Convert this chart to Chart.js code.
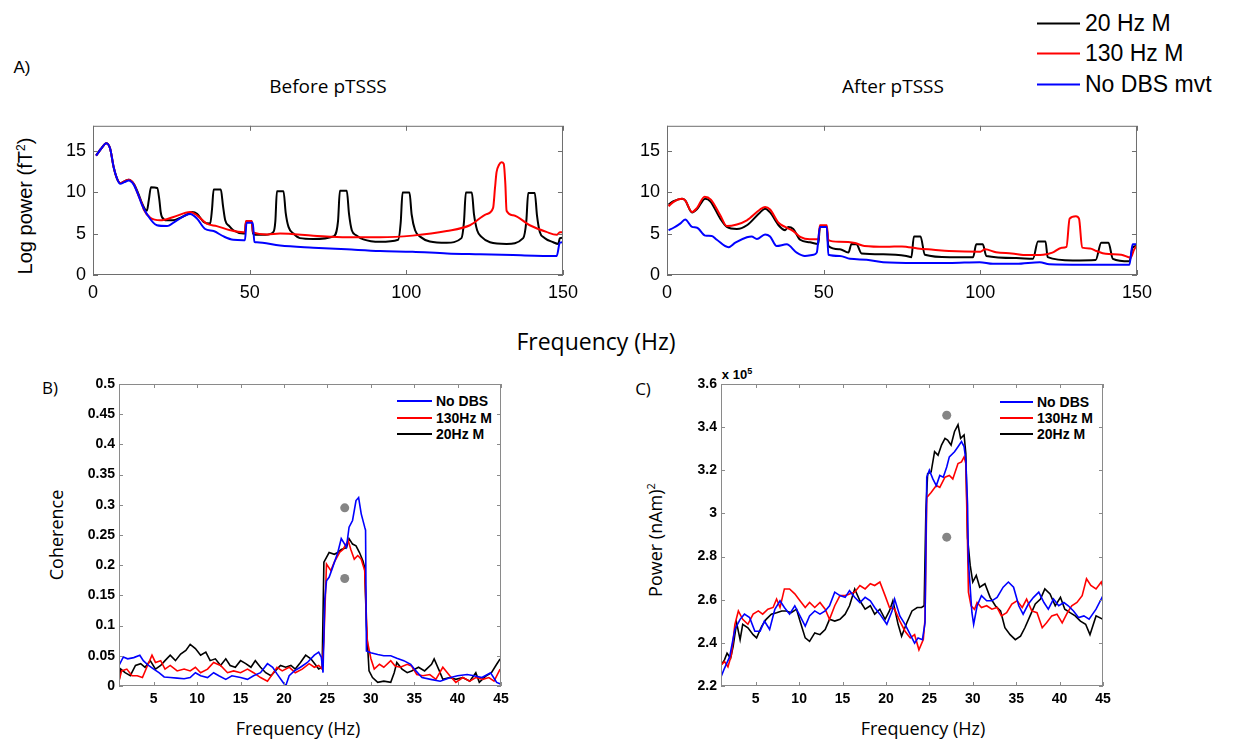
<!DOCTYPE html>
<html>
<head>
<meta charset="utf-8">
<script src="https://cdn.jsdelivr.net/npm/chart.js@4.4.1/dist/chart.umd.min.js"></script>
<style>
  body { margin: 0; background: #fff; width: 1240px; height: 739px; overflow: hidden; position: relative; }
  canvas { position: absolute; }
  .lbl { position: absolute; white-space: nowrap; line-height: 1; transform: translate(-50%, -50%); color: #000; }
  .rot { transform: translate(-50%, -50%) rotate(-90deg); }
  .os { font-family: "Open Sans", "DejaVu Sans", sans-serif; }
  .ar { font-family: "Liberation Sans", Arial, sans-serif; }
  .leg { position: absolute; display: flex; align-items: center; white-space: nowrap; transform: translateY(-50%); font-family: "Liberation Sans", Arial, sans-serif; line-height: 1; }
  .leg span.ln { display: inline-block; height: 2px; }
</style>
</head>
<body>

<div class="lbl ar" style="left:22px; top:67px; font-size:17px;">A)</div>
<div class="lbl os" style="left:328px; top:86px; font-size:19px;">Before pTSSS</div>
<div class="lbl os" style="left:893px; top:86px; font-size:19px;">After pTSSS</div>
<div class="lbl ar rot" style="left:25px; top:206px; font-size:20px;">Log power (fT<sup style="font-size:12px">2</sup>)</div>
<div class="lbl os" style="left:596px; top:341px; font-size:23px;">Frequency (Hz)</div>

<div class="lbl os" style="left:50px; top:387px; font-size:17px;">B)</div>
<div class="lbl os" style="left:643px; top:388px; font-size:17px;">C)</div>
<div class="lbl os rot" style="left:56px; top:535px; font-size:18px;">Coherence</div>
<div class="lbl os rot" style="left:654px; top:540px; font-size:18px;">Power (nAm)<sup style="font-size:11px">2</sup></div>
<div class="lbl os" style="left:298px; top:728px; font-size:18px;">Frequency (Hz)</div>
<div class="lbl os" style="left:923px; top:728px; font-size:18px;">Frequency (Hz)</div>
<div class="lbl ar" style="left:737px; top:374px; font-size:13px; font-weight:bold;">x 10<sup style="font-size:9px">5</sup></div>

<div class="leg" style="left:1037px; top:23px; font-size:23px;"><span class="ln" style="width:43px; background:#000; margin-right:5px;"></span>20 Hz M</div>
<div class="leg" style="left:1037px; top:53px; font-size:23px;"><span class="ln" style="width:43px; background:#f00; margin-right:5px;"></span>130 Hz M</div>
<div class="leg" style="left:1037px; top:84px; font-size:23px;"><span class="ln" style="width:43px; background:#00f; margin-right:5px;"></span>No DBS mvt</div>

<div class="leg" style="left:397px; top:401px; font-size:14px; font-weight:bold;"><span class="ln" style="width:35px; background:#00f; margin-right:4px;"></span>No DBS</div>
<div class="leg" style="left:397px; top:418px; font-size:14px; font-weight:bold;"><span class="ln" style="width:35px; background:#f00; margin-right:4px;"></span>130Hz M</div>
<div class="leg" style="left:397px; top:434px; font-size:14px; font-weight:bold;"><span class="ln" style="width:35px; background:#000; margin-right:4px;"></span>20Hz M</div>

<div class="leg" style="left:1000px; top:402px; font-size:14px; font-weight:bold;"><span class="ln" style="width:33px; background:#00f; margin-right:4px;"></span>No DBS</div>
<div class="leg" style="left:1000px; top:418px; font-size:14px; font-weight:bold;"><span class="ln" style="width:33px; background:#f00; margin-right:4px;"></span>130Hz M</div>
<div class="leg" style="left:1000px; top:434px; font-size:14px; font-weight:bold;"><span class="ln" style="width:33px; background:#000; margin-right:4px;"></span>20Hz M</div>

<canvas id="before" width="545" height="195" style="left:40px; top:108px;"></canvas>
<canvas id="after" width="545" height="195" style="left:614px; top:108px;"></canvas>
<canvas id="coh" width="450" height="340" style="left:70px; top:370px;"></canvas>
<canvas id="pow" width="460" height="340" style="left:660px; top:370px;"></canvas>

<script>
// ---- A) log power, before pTSSS ----
const beforeF20 = [1, 2.5, 4.3, 5.5, 6.6, 7.7, 8.7, 10, 11.4, 13,
  14.5, 15.6, 16.5, 17.2, 17.8, 18.5, 20.5, 21.2, 21.6, 22,
  23.6, 25.5, 27.8, 30, 31.6, 33.2, 35.3, 37.4, 38, 38.5,
  40.8, 41.5, 42.2, 43.5, 44.8, 48, 48.5, 48.8, 50.7, 51,
  51.2, 55, 57.6, 58.2, 58.7, 60.8, 61.5, 62.4, 64, 66,
  70.3, 76.7, 78.2, 78.8, 81, 81.7, 82.6, 84, 86.3, 91.6,
  97.4, 98.2, 98.8, 101, 101.7, 102.8, 104.5, 107.5, 112.9, 117.6,
  118.4, 119, 120.9, 121.6, 122.6, 124, 126.7, 132, 137.3, 138.3,
  138.9, 141, 141.7, 142.6, 144, 146.9, 148.5, 149, 150];
const before20 = [14.4, 15.2, 15.9, 15.2, 13.0, 11.6, 11.1, 11.3, 11.5, 11.0,
  9.8, 8.7, 8.0, 7.75, 9.0, 10.6, 10.5, 9.0, 7.6, 7.0,
  6.6, 6.6, 6.9, 7.3, 7.6, 7.4, 6.4, 6.2, 8.0, 10.3,
  10.3, 8.3, 6.6, 5.9, 5.4, 5.0, 5.0, 6.4, 6.4, 5.2,
  4.9, 4.85, 5.2, 6.5, 10.1, 10.1, 7.5, 5.8, 5.0, 4.45,
  4.35, 4.65, 6.5, 10.15, 10.15, 7.4, 5.4, 4.8, 4.3, 4.0,
  4.25, 6.3, 9.95, 9.95, 7.3, 5.4, 4.6, 4.05, 3.9, 4.45,
  6.4, 9.95, 9.95, 7.3, 5.4, 4.6, 3.95, 3.75, 4.45, 6.5,
  9.9, 9.9, 7.2, 5.2, 4.5, 3.95, 3.75, 4.45, 4.5];

const beforeF130 = [1, 2.5, 4.3, 5.5, 6.6, 7.7, 8.7, 10, 11.4, 13,
  14.5, 15.6, 16.2, 18.3, 21.5, 25.7, 31, 33.2, 36.3, 39.5,
  43.8, 48, 48.5, 48.8, 50.7, 51, 51.2, 55.5, 59.7, 70.3,
  81, 91.6, 102, 112.9, 120.3, 125.6, 127.7, 128.3, 128.8, 129.6,
  130.4, 131.1, 131.6, 132, 134.1, 139.4, 144.7, 148, 149, 150];
const before130 = [14.4, 15.2, 15.9, 15.2, 13.0, 11.6, 11.1, 11.3, 11.5, 11.0,
  9.6, 8.6, 7.9, 6.9, 6.6, 7.0, 7.6, 7.2, 6.2, 5.9,
  5.4, 5.15, 5.15, 6.5, 6.5, 5.3, 5.15, 4.9, 5.0, 4.75,
  4.55, 4.55, 4.75, 5.3, 6.0, 7.35, 8.1, 10.5, 12.4, 13.3,
  13.6, 13.4, 11, 7.75, 7.2, 6.0, 5.2, 4.85, 5.15, 5.15];

const beforeFNo = [1, 2.5, 4.3, 5.5, 6.6, 7.7, 8.7, 10, 11.4, 13,
  14.5, 15.6, 17.2, 20.4, 23.6, 26.8, 31, 33.2, 35.8, 38.5,
  41.7, 44.8, 48, 48.5, 49, 51, 51.5, 52.3, 59.7, 70.3,
  81, 91.6, 102, 113, 123.5, 134, 148, 149, 150];
const beforeNo = [14.4, 15.2, 15.9, 15.2, 13.0, 11.6, 11.0, 11.2, 11.4, 10.9,
  9.6, 8.5, 7.35, 6.0, 5.9, 6.6, 7.35, 6.8, 5.55, 5.3,
  4.65, 4.25, 4.2, 4.2, 6.3, 6.3, 4.0, 3.95, 3.55, 3.3,
  3.1, 2.9, 2.8, 2.6, 2.5, 2.4, 2.3, 3.9, 3.95];

// ---- A) log power, after pTSSS ----
const afterF20 = [0.5, 2.1, 4.8, 5.8, 8, 9.6, 12.2, 13.8, 17, 19.1,
  22.3, 25.5, 29.7, 31.3, 32.9, 35.6, 37.7, 38.7, 40.3, 42.5,
  45.6, 48.3, 48.8, 51, 51.5, 55.2, 57.9, 58.9, 60.5, 62.1,
  69, 76.4, 78, 78.8, 80.9, 82.3, 90.2, 97.7, 98.7, 100.8,
  101.9, 111.5, 116.8, 118.4, 120.8, 121.5, 129.5, 136.8, 138.6, 140.9,
  142.3, 147.6, 148.6, 150];
const after20 = [8.5, 8.9, 9.2, 9.0, 7.55, 7.95, 9.2, 8.9, 6.8, 5.8,
  5.55, 6.0, 7.55, 8.0, 7.55, 6.0, 5.4, 5.8, 5.55, 4.25,
  3.95, 3.75, 5.8, 5.8, 3.5, 3.1, 2.7, 3.75, 3.7, 2.6,
  2.5, 2.3, 2.15, 4.65, 4.65, 2.45, 2.15, 2.15, 3.7, 3.7,
  2.3, 2.05, 1.95, 4.05, 4.05, 2.15, 1.75, 1.8, 3.9, 3.9,
  1.95, 1.65, 3.3, 3.5];

const afterF130 = [0.5, 2, 4.8, 5.8, 8, 9.6, 12, 14, 17, 19.1,
  22.3, 25.5, 29.7, 31.3, 32.9, 35.6, 37.7, 40.3, 42.5, 45.6,
  48.3, 48.8, 51, 51.5, 55, 60, 63, 70, 75, 80,
  85, 90, 100, 101.5, 105, 110, 115, 120, 123, 126,
  127.5, 128.5, 130.5, 131.5, 132.5, 135, 137, 140, 145, 148,
  149, 150];
const after130 = [8.3, 8.8, 9.2, 9.0, 7.6, 8.1, 9.45, 9.1, 7.2, 5.9,
  6.1, 6.6, 7.9, 8.2, 7.9, 6.3, 5.8, 5.3, 4.6, 4.3,
  4.3, 6.0, 6.0, 4.2, 4.0, 3.85, 3.5, 3.4, 3.45, 3.2,
  3.05, 2.9, 2.8, 3.1, 2.75, 2.6, 2.4, 2.45, 2.7, 3.3,
  3.4, 6.8, 7.1, 6.8, 3.3, 3.2, 2.9, 2.55, 2.45, 2.1,
  3.0, 3.6];

const afterFNo = [0.5, 2.1, 4.2, 5.8, 8, 9.6, 12.2, 14.3, 15.9, 19.6,
  21.8, 25.5, 27, 28.7, 31.3, 32.9, 35, 38.2, 41.4, 44,
  46.7, 47.8, 48.8, 51, 51.5, 55.2, 58.4, 63.7, 69, 79.6,
  90, 99.8, 104, 111.5, 119, 122, 132.7, 147.6, 148.6, 150];
const afterNo = [5.4, 5.7, 6.2, 6.7, 5.8, 5.7, 4.75, 4.7, 4.25, 3.35,
  3.9, 4.55, 4.65, 4.35, 4.9, 4.65, 3.5, 3.7, 2.7, 2.3,
  2.45, 2.7, 5.8, 5.8, 2.45, 2.3, 1.95, 1.85, 1.55, 1.45,
  1.45, 1.55, 1.35, 1.35, 1.55, 1.3, 1.25, 1.25, 3.7, 3.7];

const logTicks = [0, 5, 10, 15];
const logLabels = ['0', '5', '10', '15'];
const hzTicksTop = [0, 50, 100, 150];
const hzLabelsTop = ['0', '50', '100', '150'];

// ---- B) coherence ----
const cohFNo = [1, 1.5, 2, 2.7, 3.4, 3.8, 4.4, 5, 5.6, 6.2,
  6.9, 7.7, 8.5, 9.2, 9.8, 10.4, 11.2, 11.9, 12.5, 13.3,
  14, 15, 15.8, 16.5, 17.3, 18.1, 18.7, 19.2, 19.8, 20.2,
  20.6, 21.2, 21.9, 22.7, 23.5, 24, 24.3, 24.5, 24.7, 24.9,
  25.2, 25.6, 26.2, 26.6, 27.2, 27.5, 27.9, 28.3, 28.6, 28.9,
  29.3, 29.4, 29.5, 30, 30.8, 31.5, 32.3, 33, 33.8, 34.6,
  35.2, 35.9, 36.9, 38, 39.2, 40, 41.1, 41.9, 42.8, 43.8,
  44.5, 45];
const cohNo = [0.034, 0.048, 0.045, 0.047, 0.051, 0.042, 0.034, 0.028, 0.022, 0.015,
  0.014, 0.013, 0.012, 0.014, 0.022, 0.017, 0.014, 0.022, 0.017, 0.011,
  0.017, 0.014, 0.011, 0.017, 0.022, 0.037, 0.031, 0.020, 0.008, 0.0,
  0.017, 0.025, 0.031, 0.039, 0.051, 0.056, 0.048, 0.022, 0.143, 0.174,
  0.18, 0.196, 0.221, 0.244, 0.23, 0.263, 0.274, 0.307, 0.312, 0.285,
  0.263, 0.258, 0.058, 0.055, 0.052, 0.05, 0.05, 0.046, 0.042, 0.036,
  0.025, 0.014, 0.011, 0.008, 0.014, 0.017, 0.019, 0.017, 0.014, 0.022,
  0.006, 0.003];

const cohF130 = [1, 1.3, 1.9, 2.5, 3.1, 3.7, 4.2, 4.8, 5.2, 5.8,
  6.3, 6.9, 7.7, 8.5, 9.2, 9.8, 10.4, 11.2, 11.9, 12.7,
  13.5, 14.2, 15, 15.8, 16.5, 17.3, 18.1, 18.7, 19.2, 19.8,
  20.6, 21.3, 22.1, 22.9, 23.5, 24, 24.4, 24.6, 24.9, 25.4,
  25.8, 26.4, 26.8, 27.4, 27.7, 28.1, 28.5, 28.9, 29.3, 29.6,
  30, 30.4, 31, 31.5, 32.3, 32.8, 33.4, 34.2, 34.7, 35.3,
  36, 36.8, 37.5, 38.3, 39.1, 39.8, 40.6, 41.4, 42.1, 42.9,
  43.6, 44.2, 44.9];
const coh130 = [0.008, 0.025, 0.028, 0.017, 0.017, 0.014, 0.031, 0.051, 0.039, 0.042,
  0.028, 0.034, 0.025, 0.028, 0.025, 0.031, 0.022, 0.028, 0.039, 0.034,
  0.022, 0.025, 0.022, 0.028, 0.022, 0.014, 0.008, 0.02, 0.031, 0.025,
  0.031, 0.022, 0.028, 0.037, 0.031, 0.034, 0.028, 0.076, 0.202, 0.191,
  0.205, 0.221, 0.226, 0.241, 0.226, 0.21, 0.216, 0.21, 0.191, 0.075,
  0.046, 0.028, 0.036, 0.031, 0.042, 0.033, 0.031, 0.036, 0.033, 0.019,
  0.017, 0.019, 0.011, 0.031, 0.017, 0.006, 0.014, 0.008, 0.014, 0.011,
  0.014, 0.008, 0.028];

const cohF20 = [1, 1.2, 1.7, 2.3, 2.9, 3.5, 4, 4.6, 5.2, 5.8,
  6.3, 6.9, 7.5, 8.1, 8.7, 9.2, 9.8, 10.4, 11, 11.5,
  12.1, 12.7, 13.3, 13.8, 14.4, 15, 15.6, 16.2, 16.7, 17.3,
  17.9, 18.5, 19, 19.6, 20.2, 20.8, 21.3, 21.9, 22.5, 23.1,
  23.7, 24, 24.4, 24.6, 24.9, 25.2, 25.8, 26.2, 26.6, 27.2,
  27.5, 27.9, 28.3, 28.7, 29.1, 29.3, 29.5, 29.8, 30.2, 30.8,
  31.5, 32.3, 32.7, 33, 33.6, 34.2, 34.7, 35.5, 36.2, 37,
  37.3, 37.9, 38.3, 39.1, 39.8, 40.6, 41.4, 42.1, 42.5, 43.3,
  43.9, 44.5, 44.9];
const coh20 = [0.008, 0.028, 0.022, 0.017, 0.034, 0.037, 0.031, 0.042, 0.028, 0.034,
  0.042, 0.051, 0.042, 0.053, 0.059, 0.069, 0.062, 0.051, 0.056, 0.042,
  0.045, 0.034, 0.045, 0.034, 0.031, 0.042, 0.037, 0.031, 0.042, 0.031,
  0.022, 0.017, 0.025, 0.034, 0.031, 0.034, 0.028, 0.039, 0.051, 0.045,
  0.034, 0.028, 0.031, 0.205, 0.213, 0.221, 0.218, 0.221, 0.226, 0.229,
  0.244, 0.235, 0.232, 0.221, 0.207, 0.196, 0.1, 0.025, 0.014, 0.006,
  0.008, 0.006, 0.022, 0.039, 0.028, 0.022, 0.025, 0.031, 0.025, 0.036,
  0.045, 0.025, 0.011, 0.014, 0.011, 0.014, 0.008, 0.022, 0.006, 0.017,
  0.022, 0.036, 0.045];

const cohDotF = [27, 27];
const cohDotV = [0.295, 0.178];
const cohTicks = [0, 0.05, 0.1, 0.15, 0.2, 0.25, 0.3, 0.35, 0.4, 0.45, 0.5];
const cohLabels = ['0', '0.05', '0.1', '0.15', '0.2', '0.25', '0.3', '0.35', '0.4', '0.45', '0.5'];

// ---- C) power (x 10^5) ----
const powFNo = [1, 1.4, 2, 2.6, 3.2, 3.7, 4.3, 4.9, 5.5, 6,
  6.6, 7.2, 7.8, 8.3, 8.9, 9.5, 10.1, 10.7, 11.2, 11.8,
  12.4, 13, 13.5, 14.1, 14.7, 15.3, 15.8, 16.4, 17, 17.6,
  18.2, 18.7, 19.3, 20.1, 20.7, 21, 21.6, 22.2, 22.8, 23.3,
  23.7, 24.2, 24.5, 24.7, 25, 25.4, 25.8, 26.2, 26.6, 27,
  27.3, 27.9, 28.3, 28.7, 29, 29.2, 29.4, 29.5, 29.9, 30.1,
  30.5, 31, 31.6, 32.2, 32.8, 33.5, 34.1, 34.7, 35.3, 35.8,
  36.4, 37, 37.6, 38.2, 38.7, 39.3, 39.9, 40.5, 41, 41.6,
  42.2, 42.8, 43.4, 44.2, 45];
const powNo = [2.242, 2.282, 2.336, 2.462, 2.509, 2.533, 2.517, 2.454, 2.454, 2.501,
  2.462, 2.556, 2.595, 2.564, 2.533, 2.572, 2.525, 2.478, 2.525, 2.548,
  2.533, 2.548, 2.572, 2.635, 2.619, 2.611, 2.642, 2.611, 2.587, 2.611,
  2.595, 2.564, 2.533, 2.486, 2.548, 2.603, 2.525, 2.486, 2.438, 2.399,
  2.423, 2.415, 2.493, 3.168, 3.2, 3.16, 3.129, 3.176, 3.168, 3.215,
  3.262, 3.286, 3.309, 3.333, 3.31, 3.247, 3.04, 2.776, 2.541, 2.486,
  2.572, 2.619, 2.595, 2.595, 2.611, 2.658, 2.682, 2.658, 2.572, 2.533,
  2.58, 2.611, 2.635, 2.587, 2.556, 2.603, 2.572, 2.587, 2.572, 2.548,
  2.517, 2.525, 2.51, 2.556, 2.619];

const powF130 = [1, 1.4, 1.8, 2.2, 2.6, 3, 3.5, 4.1, 4.7, 5.3,
  5.8, 6.4, 7, 7.4, 7.8, 8.3, 8.9, 9.5, 10.1, 10.7,
  11.2, 11.8, 12.4, 13, 13.5, 14.1, 14.7, 15.3, 15.8, 16.4,
  17, 17.6, 18.2, 18.7, 19.3, 19.9, 20.4, 21, 21.6, 22.2,
  22.8, 23.3, 23.8, 24.3, 24.5, 24.7, 25.2, 25.8, 26.2, 26.8,
  27.3, 27.7, 28.3, 28.7, 29, 29.2, 29.4, 29.5, 29.8, 30.2,
  30.5, 31, 31.6, 32.2, 32.8, 33.3, 33.9, 34.5, 35.1, 35.7,
  36.2, 36.8, 37.4, 38, 38.5, 39.1, 39.7, 40.3, 40.9, 41.4,
  42, 42.6, 43.1, 43.6, 44.2, 44.8, 45];
const pow130 = [2.297, 2.313, 2.289, 2.344, 2.486, 2.548, 2.509, 2.486, 2.533, 2.548,
  2.533, 2.556, 2.564, 2.603, 2.564, 2.65, 2.65, 2.627, 2.595, 2.564,
  2.587, 2.564, 2.587, 2.556, 2.509, 2.572, 2.619, 2.619, 2.627, 2.635,
  2.666, 2.65, 2.674, 2.666, 2.682, 2.619, 2.564, 2.556, 2.501, 2.454,
  2.423, 2.438, 2.368, 2.415, 2.509, 3.074, 3.097, 3.129, 3.121, 3.168,
  3.176, 3.16, 3.231, 3.239, 3.262, 3.231, 2.854, 2.635, 2.572, 2.556,
  2.587, 2.564, 2.572, 2.556, 2.564, 2.525, 2.54, 2.58, 2.595, 2.564,
  2.603, 2.548, 2.54, 2.47, 2.493, 2.525, 2.533, 2.493, 2.54, 2.572,
  2.587, 2.619, 2.697, 2.666, 2.65, 2.682, 2.658];

const powF20 = [1, 1.4, 1.7, 2.1, 2.4, 2.8, 3.2, 3.5, 4.1, 4.7,
  5.1, 5.7, 6.2, 6.8, 7.4, 8, 8.5, 9.1, 9.7, 10.1,
  10.7, 11.2, 11.8, 12.4, 13, 13.5, 14.1, 14.7, 15.3, 15.8,
  16.4, 17, 17.6, 18.2, 18.7, 19.3, 19.9, 20.4, 20.8, 21.4,
  21.8, 22.4, 23, 23.6, 24.1, 24.4, 24.6, 24.8, 25.2, 25.6,
  26, 26.4, 26.8, 27.1, 27.5, 27.9, 28.3, 28.6, 29, 29.2,
  29.4, 29.7, 30, 30.4, 30.8, 31.4, 32, 32.6, 33.2, 33.7,
  34.3, 34.9, 35.5, 36, 36.6, 37.2, 37.8, 38.3, 38.9, 39.5,
  40.1, 40.6, 41.2, 41.8, 42.4, 43, 43.5, 44.2, 45];
const pow20 = [2.297, 2.321, 2.352, 2.329, 2.384, 2.493, 2.415, 2.486, 2.47, 2.438,
  2.423, 2.478, 2.509, 2.533, 2.54, 2.548, 2.548, 2.54, 2.556, 2.501,
  2.423, 2.407, 2.446, 2.438, 2.462, 2.509, 2.501, 2.509, 2.533, 2.572,
  2.65, 2.595, 2.556, 2.572, 2.533, 2.556, 2.509, 2.548, 2.595, 2.486,
  2.431, 2.493, 2.548, 2.564, 2.564, 2.572, 3.011, 3.184, 3.192, 3.286,
  3.27, 3.317, 3.348, 3.34, 3.317, 3.38, 3.411, 3.348, 3.364, 3.278,
  2.886, 2.76, 2.682, 2.713, 2.658, 2.674, 2.611, 2.572, 2.548, 2.47,
  2.438, 2.415, 2.431, 2.47, 2.525, 2.58, 2.603, 2.65, 2.627, 2.572,
  2.611, 2.556, 2.54, 2.525, 2.501, 2.486, 2.438, 2.525, 2.509];

const powDotF = [27, 27];
const powDotV = [3.455, 2.89];
const powTicks = [2.2, 2.4, 2.6, 2.8, 3, 3.2, 3.4, 3.6];
const powLabels = ['2.2', '2.4', '2.6', '2.8', '3', '3.2', '3.4', '3.6'];

const hzTicksLow = [5, 10, 15, 20, 25, 30, 35, 40, 45];
const hzLabelsLow = ['5', '10', '15', '20', '25', '30', '35', '40', '45'];

const BLACK = '#000000', RED = '#ff0000', BLUE = '#0000ff', DOT = '#858585';

// box round the plot area + MATLAB style inward ticks
const frameTicks = {
  id: 'frame',
  afterDraw(chart, args, opts) {
    const { ctx, chartArea: a, scales: { x, y } } = chart;
    ctx.save();
    ctx.strokeStyle = opts.color;
    ctx.lineWidth = 1;
    ctx.strokeRect(a.left + 0.5, a.top + 0.5, a.width - 1, a.height - 1);
    ctx.beginPath();
    x.ticks.forEach(t => {
      const px = Math.round(x.getPixelForValue(t.value)) + 0.5;
      ctx.moveTo(px, a.bottom); ctx.lineTo(px, a.bottom - opts.len);
      ctx.moveTo(px, a.top); ctx.lineTo(px, a.top + opts.len);
    });
    y.ticks.forEach(t => {
      const py = Math.round(y.getPixelForValue(t.value)) + 0.5;
      ctx.moveTo(a.left, py); ctx.lineTo(a.left + opts.len, py);
      ctx.moveTo(a.right, py); ctx.lineTo(a.right - opts.len, py);
    });
    ctx.stroke();
    ctx.restore();
  }
};

function pts(fs, vs) {
  return fs.map((f, i) => ({ x: f, y: vs[i] }));
}

function panel(id, o) {
  const sets = o.lines.map(l => ({
    label: l.label,
    data: pts(l.f, l.v),
    borderColor: l.color,
    backgroundColor: l.color,
    borderWidth: o.lw,
    pointRadius: 0,
    tension: 0,
    cubicInterpolationMode: o.smooth ? 'monotone' : 'default',
    fill: false
  }));
  if (o.dots) {
    sets.push({
      label: 'p',
      data: pts(o.dots.f, o.dots.v),
      showLine: false,
      pointRadius: 4.5,
      pointBackgroundColor: DOT,
      pointBorderWidth: 0
    });
  }
  return new Chart(document.getElementById(id), {
    type: 'line',
    data: { datasets: sets },
    options: {
      responsive: false,
      animation: false,
      events: [],
      layout: { padding: o.pad },
      plugins: {
        legend: { display: false },
        tooltip: { enabled: false },
        frame: { color: o.frame, len: o.tickLen }
      },
      scales: {
        x: {
          type: 'linear', min: o.xMin, max: o.xMax,
          grid: { display: false, drawTicks: false },
          border: { display: false },
          afterBuildTicks: s => { s.ticks = o.xTicks.map(v => ({ value: v })); },
          afterFit: s => { s.height = o.xH; },
          ticks: { autoSkip: false, maxRotation: 0, padding: o.xPad, font: o.font, color: '#000',
                   callback: (v, i) => o.xLabels[i] }
        },
        y: {
          type: 'linear', min: o.yMin, max: o.yMax,
          grid: { display: false, drawTicks: false },
          border: { display: false },
          afterBuildTicks: s => { s.ticks = o.yTicks.map(v => ({ value: v })); },
          afterFit: s => { s.width = o.yW; },
          ticks: { autoSkip: false, padding: o.yPad, font: o.font, color: '#000',
                   callback: (v, i) => o.yLabels[i] }
        }
      }
    },
    plugins: [frameTicks]
  });
}

const topFont = { family: '"Liberation Sans", Arial, sans-serif', size: 18 };
const lowFont = { family: '"Liberation Sans", Arial, sans-serif', size: 14, weight: 'bold' };

panel('before', {
  lines: [
    { label: 'No DBS mvt', f: beforeFNo, v: beforeNo, color: BLUE },
    { label: '130 Hz M', f: beforeF130, v: before130, color: RED },
    { label: '20 Hz M', f: beforeF20, v: before20, color: BLACK }
  ],
  lw: 2, smooth: true, pad: { top: 12, right: 22, bottom: 0, left: 0 },
  frame: '#6e6e6e', tickLen: 5,
  xMin: 0, xMax: 150, xTicks: hzTicksTop, xLabels: hzLabelsTop, xH: 28, xPad: 7,
  yMin: 0, yMax: 18, yTicks: logTicks, yLabels: logLabels, yW: 53, yPad: 7,
  font: topFont
});

panel('after', {
  lines: [
    { label: 'No DBS mvt', f: afterFNo, v: afterNo, color: BLUE },
    { label: '130 Hz M', f: afterF130, v: after130, color: RED },
    { label: '20 Hz M', f: afterF20, v: after20, color: BLACK }
  ],
  lw: 2, smooth: true, pad: { top: 12, right: 21, bottom: 0, left: 0 },
  frame: '#6e6e6e', tickLen: 5,
  xMin: 0, xMax: 150, xTicks: hzTicksTop, xLabels: hzLabelsTop, xH: 28, xPad: 7,
  yMin: 0, yMax: 18, yTicks: logTicks, yLabels: logLabels, yW: 53, yPad: 7,
  font: topFont
});

panel('coh', {
  lines: [
    { label: 'No DBS', f: cohFNo, v: cohNo, color: BLUE },
    { label: '130Hz M', f: cohF130, v: coh130, color: RED },
    { label: '20Hz M', f: cohF20, v: coh20, color: BLACK }
  ],
  dots: { f: cohDotF, v: cohDotV },
  lw: 1.6, pad: { top: 14, right: 19, bottom: 0, left: 0 },
  frame: '#8a8a8a', tickLen: 4,
  xMin: 1, xMax: 45, xTicks: hzTicksLow, xLabels: hzLabelsLow, xH: 24, xPad: 5,
  yMin: 0, yMax: 0.5, yTicks: cohTicks, yLabels: cohLabels, yW: 49, yPad: 4,
  font: lowFont
});

panel('pow', {
  lines: [
    { label: 'No DBS', f: powFNo, v: powNo, color: BLUE },
    { label: '130Hz M', f: powF130, v: pow130, color: RED },
    { label: '20Hz M', f: powF20, v: pow20, color: BLACK }
  ],
  dots: { f: powDotF, v: powDotV },
  lw: 1.6, pad: { top: 14, right: 17, bottom: 0, left: 0 },
  frame: '#8a8a8a', tickLen: 4,
  xMin: 1, xMax: 45, xTicks: hzTicksLow, xLabels: hzLabelsLow, xH: 24, xPad: 5,
  yMin: 2.2, yMax: 3.6, yTicks: powTicks, yLabels: powLabels, yW: 61, yPad: 4,
  font: lowFont
});
</script>
</body>
</html>
